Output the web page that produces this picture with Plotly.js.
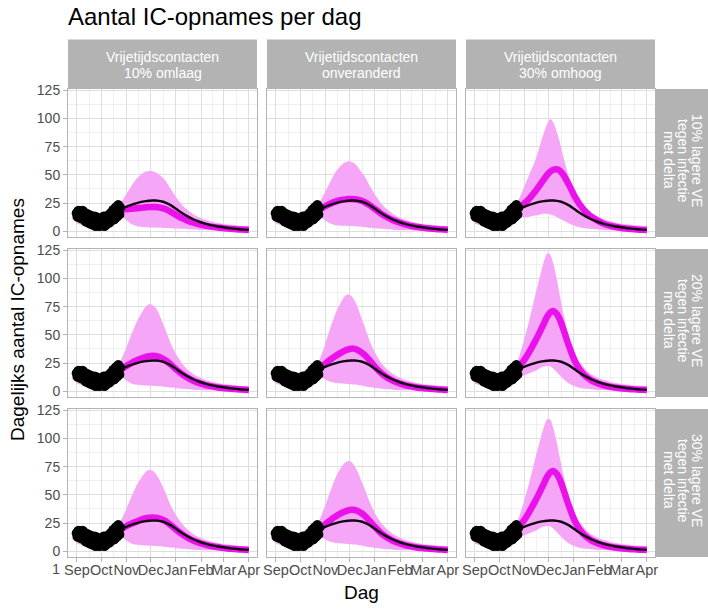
<!DOCTYPE html>
<html><head><meta charset="utf-8">
<script src="https://cdn.plot.ly/plotly-3.0.1.min.js"></script>
<style>html,body{margin:0;padding:0;background:#fff}#chart{width:708px;height:609px}</style>
</head><body><div id="chart"></div>
<script>
// ---------- DATA ----------
const obsStart = '2021-09-01';
const obsValues = [16,13,18,14,17,12,15,18,11,14,
                   16,9,13,15,8,12,14,7,11,13,
                   6,10,13,5,9,12,7,10,5,8,
                   11,6,9,13,5,8,12,7,10,14,
                   8,12,16,10,14,19,11,17,21,13,
                   18,23,15,21];
const fitDates = ['2021-09-01','2021-09-08','2021-09-15','2021-09-22','2021-09-29','2021-10-06','2021-10-13','2021-10-20'];
const fitLo = [7,5.5,4.5,4,4,5,7,11];
const fitHi = [21,19,17,16,16,18,21,24];
const projDates = ['2021-10-24','2021-10-31','2021-11-07','2021-11-14','2021-11-21','2021-11-25','2021-11-29',
  '2021-12-03','2021-12-07','2021-12-11','2021-12-15','2021-12-19','2021-12-26','2022-01-02','2022-01-09',
  '2022-01-16','2022-01-23','2022-01-30','2022-02-06','2022-02-13','2022-02-20','2022-02-27','2022-03-06',
  '2022-03-13','2022-03-20','2022-03-27','2022-04-01'];
const refLine = [19,21.5,23.5,25,26.3,26.8,27.1,27.3,27.3,27,26.4,25.5,23,19.5,16,13,10.5,8.5,6.8,5.5,4.5,3.8,3.0,2.4,1.9,1.5,1.3];

// row 1: 10% lagere VE
const med_1_1 = [19,19.5,20,20.5,21,21.3,21.5,21.6,21.5,21.2,20.6,19.8,17.3,14.2,11.5,9.3,7.6,6.2,5.1,4.2,3.5,2.9,2.4,2.0,1.7,1.5,1.4];
const hi_1_1  = [24,32,40,47,51.5,53,53.5,53.3,52.3,50.5,48,45,37,29.5,23,18.5,15,12.2,10.2,8.8,7.6,6.7,6.0,5.5,5.0,4.7,4.5];
const lo_1_1  = [14,10.5,6.5,4.5,3.8,3.6,3.5,3.4,3.3,3.2,3.1,3.0,2.8,2.5,2.2,1.9,1.6,1.3,1.1,0.9,0.8,0.7,0.6,0.5,0.5,0.4,0.4];
const med_1_2 = [19,22,24.5,26.5,27.8,28.3,28.6,28.7,28.5,28,27.2,26,23,19.2,15.5,12.5,10,8,6.4,5.1,4.1,3.4,2.8,2.3,1.9,1.6,1.4];
const hi_1_2  = [25,34,44,53,59,61,62,61.5,60,57,53,49,40,31.5,24.5,19.5,15.5,12.6,10.4,8.9,7.7,6.8,6.1,5.5,5.0,4.7,4.5];
const lo_1_2  = [14,10,7,5.5,5,4.9,4.8,4.7,4.5,4.3,4.0,3.7,3.2,2.7,2.2,1.8,1.5,1.2,1.0,0.9,0.8,0.7,0.6,0.5,0.5,0.4,0.4];
const med_1_3 = [20,24,29,35,42,46,50,53,54.7,55,53.5,50,41,31,23,17,12.5,9.5,7,5.3,4.1,3.2,2.5,2.0,1.6,1.3,1.2];
const hi_1_3  = [27,38,50,62,78,87,95,99.5,96,88,78,66,48,36,27,21,16.5,13.5,11,9.3,8,7,6.2,5.6,5.1,4.8,4.6];
const lo_1_3  = [13,12.5,13,14,15,15.5,15.5,15,14,12.5,11,9.5,7,5,3.5,2.6,2.0,1.6,1.3,1.0,0.8,0.7,0.6,0.5,0.5,0.4,0.4];
// row 2: 20% lagere VE
const med_2_1 = [19,22,25,27.5,29.5,30.5,31.2,31.5,31.3,30.5,29.2,27.5,23.5,19,15,11.8,9.2,7.3,5.8,4.6,3.7,3.0,2.5,2.1,1.7,1.5,1.3];
const hi_2_1  = [26,37,50,62,71,75,77,76.5,74,69,62,55,42,32,24.5,19,15.2,12.4,10.3,8.8,7.6,6.7,6.0,5.5,5.0,4.7,4.5];
const lo_2_1  = [14,10,7,5.8,5.3,5.1,5,4.9,4.7,4.5,4.2,3.9,3.3,2.7,2.2,1.8,1.5,1.2,1.0,0.9,0.8,0.7,0.6,0.5,0.5,0.4,0.4];
const med_2_2 = [20,24,28,31.5,34.5,36,37.2,37.8,37.6,36.5,34.8,32.5,27,21,16,12.3,9.5,7.4,5.8,4.6,3.7,3.0,2.5,2.1,1.7,1.5,1.3];
const hi_2_2  = [27,40,56,70,80,84.5,86,84.5,80.5,74,66,58,44,33,25,19.5,15.5,12.6,10.4,8.9,7.7,6.8,6.1,5.5,5.0,4.7,4.5];
const lo_2_2  = [14,11,8.5,7.5,7,6.8,6.6,6.3,6.0,5.6,5.1,4.6,3.8,3.0,2.4,1.9,1.5,1.2,1.0,0.9,0.8,0.7,0.6,0.5,0.5,0.4,0.4];
const med_2_3 = [21,27,35,44,54,60,66,70,71,68.5,63,55,40,27,18.5,13,9.5,7.2,5.5,4.3,3.4,2.8,2.3,1.9,1.6,1.4,1.2];
const hi_2_3  = [28,44,63,84,104,115,122,121,112,99,84,69,48,34,25,19,15,12.2,10.2,8.8,7.6,6.7,6.0,5.5,5.0,4.7,4.5];
const lo_2_3  = [14,14,16,18,21,22,22.5,22,20,17,14,11,7,4.5,3.0,2.2,1.7,1.3,1.1,0.9,0.8,0.7,0.6,0.5,0.5,0.4,0.4];
// row 3: 30% lagere VE
const med_3_1 = [19,22,24.5,26.5,28.5,29.3,29.8,30,29.8,29.2,28.2,26.8,23,18.8,15,11.8,9.3,7.4,5.9,4.7,3.8,3.1,2.5,2.1,1.7,1.5,1.3];
const hi_3_1  = [26,36,48,59,67,70.5,72,71.5,69,64.5,58.5,52,40,31,24,19,15.2,12.4,10.3,8.8,7.6,6.7,6.0,5.5,5.0,4.7,4.5];
const lo_3_1  = [14,10,7,5.8,5.3,5.1,5,4.9,4.7,4.5,4.2,3.9,3.3,2.7,2.2,1.8,1.5,1.2,1.0,0.9,0.8,0.7,0.6,0.5,0.5,0.4,0.4];
const med_3_2 = [20,23.5,27.5,31,34,35.3,36.3,36.8,36.6,35.6,34,31.8,26.5,20.8,15.8,12.2,9.4,7.4,5.8,4.6,3.7,3.0,2.5,2.1,1.7,1.5,1.3];
const hi_3_2  = [27,39,53,66,75,78.5,80,79,75.5,70,63,56,43,32.5,25,19.5,15.5,12.6,10.4,8.9,7.7,6.8,6.1,5.5,5.0,4.7,4.5];
const lo_3_2  = [14,11,8.5,7.5,7,6.8,6.6,6.3,6.0,5.6,5.1,4.6,3.8,3.0,2.4,1.9,1.5,1.2,1.0,0.9,0.8,0.7,0.6,0.5,0.5,0.4,0.4];
const med_3_3 = [21,27,35,44,54,60,66,70,71,68.5,63,55,40,27,18.5,13,9.5,7.2,5.5,4.3,3.4,2.8,2.3,1.9,1.6,1.4,1.2];
const hi_3_3  = [28,43,61,81,100,110,117,116.5,108,96,82,68,48,34,25,19,15,12.2,10.2,8.8,7.6,6.7,6.0,5.5,5.0,4.7,4.5];
const lo_3_3  = [14,14,16,18,21,22,22.5,22,20,17,14,11,7,4.5,3.0,2.2,1.7,1.3,1.1,0.9,0.8,0.7,0.6,0.5,0.5,0.4,0.4];

const monthTicks = ['2021-09-01','2021-10-01','2021-11-01','2021-12-01','2022-01-01','2022-02-01','2022-03-01','2022-04-01'];
const monthLabels = ['Sep','Oct','Nov','Dec','Jan','Feb','Mar','Apr'];
const minorXTicks = ['2021-09-16','2021-10-16 12:00','2021-11-16','2021-12-16 12:00','2022-01-16 12:00','2022-02-15','2022-03-16 12:00'];
const yTicks = [0,25,50,75,100,125];
const yMinorTicks = [12.5,37.5,62.5,87.5,112.5];
const colLabels = [['Vrijetijdscontacten','10% omlaag'],['Vrijetijdscontacten','onveranderd'],['Vrijetijdscontacten','30% omhoog']];
const rowLabels = [['10% lagere VE','tegen infectie','met delta'],['20% lagere VE','tegen infectie','met delta'],['30% lagere VE','tegen infectie','met delta']];
const titleText = 'Aantal IC-opnames per dag';
const xTitle = 'Dag';
const yTitle = 'Dagelijks aantal IC-opnames';

// ---------- BUILD ----------
const panels = [
  [[med_1_1,lo_1_1,hi_1_1],[med_1_2,lo_1_2,hi_1_2],[med_1_3,lo_1_3,hi_1_3]],
  [[med_2_1,lo_2_1,hi_2_1],[med_2_2,lo_2_2,hi_2_2],[med_2_3,lo_2_3,hi_2_3]],
  [[med_3_1,lo_3_1,hi_3_1],[med_3_2,lo_3_2,hi_3_2],[med_3_3,lo_3_3,hi_3_3]]
];
const W = 708, H = 609;
const colPx = [[68,257],[267,456],[466,655]];
const rowPx = [[89,237],[249,397],[409,557]];
const FONT = 'Liberation Sans, Arial, Helvetica, sans-serif';
const obsDates = obsValues.map((v,i)=>{const d=new Date(obsStart+'T00:00:00Z'); d.setUTCDate(d.getUTCDate()+i); return d.toISOString().slice(0,10);});

const data = [];
const layout = {
  width: W, height: H, margin:{l:0,r:0,t:0,b:0}, showlegend:false,
  paper_bgcolor:'#ffffff', plot_bgcolor:'#ffffff', font:{family:FONT},
  shapes:[], annotations:[]
};
const BAND = '#f6a6f6', MED = '#ea12ea';
for (let r=0;r<3;r++){
  for (let c=0;c<3;c++){
    const k = r*3+c;
    const sfx = k===0 ? '' : String(k+1);
    const xa = 'x'+sfx, ya = 'y'+sfx;
    const [med, lo, hi] = panels[r][c];
    const bx = fitDates.concat(projDates);
    const blo = fitLo.concat(lo), bhi = fitHi.concat(hi);
    data.push({type:'scatter',mode:'lines',x:bx,y:blo,xaxis:xa,yaxis:ya,line:{width:0,shape:'spline',smoothing:0.6,color:BAND},hoverinfo:'skip'});
    data.push({type:'scatter',mode:'lines',x:bx,y:bhi,xaxis:xa,yaxis:ya,fill:'tonexty',fillcolor:BAND,line:{width:0,shape:'spline',smoothing:0.6,color:BAND},hoverinfo:'skip'});
    data.push({type:'scatter',mode:'lines',x:projDates,y:med,xaxis:xa,yaxis:ya,line:{width:6.5,shape:'spline',smoothing:0.6,color:MED}});
    data.push({type:'scatter',mode:'lines',x:projDates,y:refLine,xaxis:xa,yaxis:ya,line:{width:2.4,shape:'spline',smoothing:0.6,color:'#140514'}});
    data.push({type:'scatter',mode:'markers',x:obsDates,y:obsValues,xaxis:xa,yaxis:ya,marker:{size:10.5,color:'#000000'}});

    const bottom = r===2, left = c===0;
    layout['xaxis'+sfx] = {
      type:'date', domain:[colPx[c][0]/W, colPx[c][1]/W], anchor:ya,
      range:['2021-08-21','2022-04-11'], tickmode:'array', tickvals:monthTicks, ticktext:monthLabels,
      showticklabels:bottom, ticks: bottom?'outside':'', ticklen:4, tickcolor:'#b3b3b3', tickwidth:1,
      tickangle:0, ticklabelstandoff:-4, tickfont:{size:14.5, color:'#4d4d4d', family:FONT},
      showgrid:true, gridcolor:'#dedede', gridwidth:1,
      minor:{tickmode:'array', tickvals:minorXTicks, showgrid:true, gridcolor:'#ececec', gridwidth:0.8, ticks:''},
      showline:true, mirror:true, linecolor:'#b3b3b3', linewidth:1, zeroline:false, fixedrange:true
    };
    layout['yaxis'+sfx] = {
      domain:[1-rowPx[r][1]/H, 1-rowPx[r][0]/H], anchor:xa,
      range:[-5,126], tickmode:'array', tickvals:yTicks,
      showticklabels:left, ticks: left?'outside':'', ticklen:4, tickcolor:'#b3b3b3', tickwidth:1,
      tickfont:{size:14, color:'#4d4d4d', family:FONT},
      showgrid:true, gridcolor:'#dedede', gridwidth:1,
      minor:{tickmode:'array', tickvals:yMinorTicks, showgrid:true, gridcolor:'#ececec', gridwidth:0.8, ticks:''},
      showline:true, mirror:true, linecolor:'#b3b3b3', linewidth:1, zeroline:false, fixedrange:true
    };
  }
}
// strips
for (let c=0;c<3;c++){
  layout.shapes.push({type:'rect',xref:'paper',yref:'paper',x0:colPx[c][0]/W,x1:colPx[c][1]/W,y0:1-89/H,y1:1-39.5/H,fillcolor:'#b3b3b3',line:{width:0}});
  const cx = (colPx[c][0]+colPx[c][1])/2/W;
  colLabels[c].forEach((t,i)=>{
    layout.annotations.push({xref:'paper',yref:'paper',x:cx,y:1-(57+15.5*i)/H,text:t,showarrow:false,xanchor:'center',yanchor:'middle',font:{size:14,color:'#ffffff',family:FONT}});
  });
}
for (let r=0;r<3;r++){
  layout.shapes.push({type:'rect',xref:'paper',yref:'paper',x0:656/W,x1:1,y0:1-rowPx[r][1]/H,y1:1-rowPx[r][0]/H,fillcolor:'#b3b3b3',line:{width:0}});
  const cy = 1-((rowPx[r][0]+rowPx[r][1])/2-3)/H;
  rowLabels[r].forEach((t,i)=>{
    layout.annotations.push({xref:'paper',yref:'paper',x:(697-14*i)/W,y:cy,text:t,textangle:90,showarrow:false,xanchor:'center',yanchor:'middle',font:{size:14,color:'#ffffff',family:FONT}});
  });
}
layout.annotations.push({xref:'paper',yref:'paper',x:66/W,y:1-17/H,text:titleText,showarrow:false,xanchor:'left',yanchor:'middle',font:{size:24,color:'#000000',family:FONT}});
layout.annotations.push({xref:'paper',yref:'paper',x:361/W,y:1-592/H,text:xTitle,showarrow:false,xanchor:'center',yanchor:'middle',font:{size:19,color:'#000000',family:FONT}});
layout.annotations.push({xref:'paper',yref:'paper',x:17/W,y:1-320/H,text:yTitle,textangle:-90,showarrow:false,xanchor:'center',yanchor:'middle',font:{size:19,color:'#000000',family:FONT}});
layout.annotations.push({xref:'paper',yref:'paper',x:56/W,y:1-569/H,text:'1',showarrow:false,xanchor:'center',yanchor:'middle',font:{size:14.5,color:'#4d4d4d',family:FONT}});

Plotly.newPlot('chart', data, layout, {staticPlot:true, displayModeBar:false});
</script></body></html>
